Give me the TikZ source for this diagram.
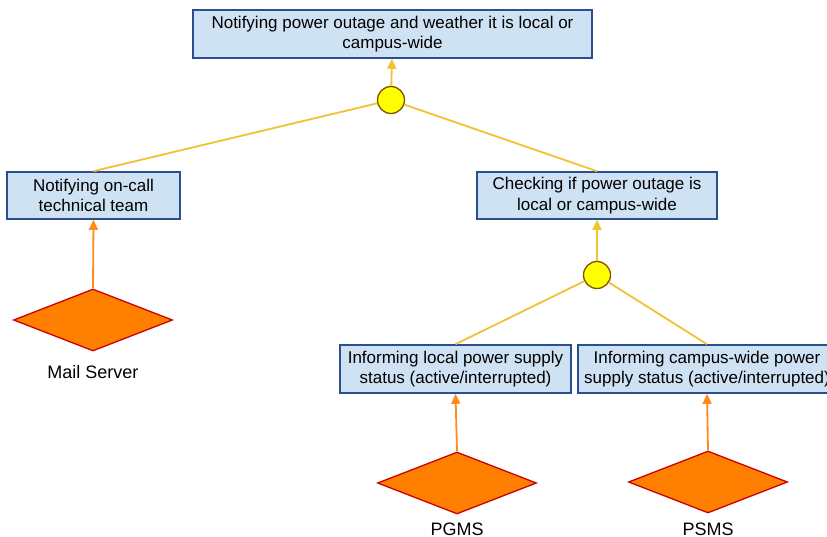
\documentclass[tikz,border=0pt]{standalone}
\usepackage{fontspec}
\setmainfont{Liberation Sans}
\usetikzlibrary{shapes.geometric,arrows.meta}
\definecolor{boxfill}{HTML}{CFE2F3}
\definecolor{boxline}{HTML}{2A4F8F}
\definecolor{gatefill}{HTML}{FFFF00}
\definecolor{gateline}{HTML}{7F5200}
\definecolor{linkline}{HTML}{F1C232}
\definecolor{feedline}{HTML}{FF8C1A}
\definecolor{srcfill}{HTML}{FF7F00}
\definecolor{srcline}{HTML}{CC0000}
\tikzset{
  goal/.style={draw=boxline, line width=1.6pt, fill=boxfill, align=center,
    inner sep=0pt, font=\fontsize{17}{20.5}\selectfont},
  gate/.style={circle, draw=gateline, line width=1.3pt, fill=gatefill,
    minimum size=27pt, inner sep=0pt},
  source/.style={diamond, draw=srcline, line width=1.3pt, fill=srcfill,
    minimum width=159pt, minimum height=62pt, aspect=2.56, inner sep=0pt},
  srclabel/.style={font=\fontsize{18}{20}\selectfont, inner sep=0pt},
  link/.style={draw=linkline, line width=1.8pt},
  uplink/.style={draw=linkline, line width=1.8pt, -{Triangle[width=9pt,length=10pt]}},
  feed/.style={draw=feedline, line width=1.8pt, -{Triangle[width=9pt,length=10pt]}}
}
\begin{document}
\begin{tikzpicture}[x=1pt,y=-1pt]
\useasboundingbox (0,0) rectangle (827,537);
\clip (0,0) rectangle (827,537);
\fill[white] (0,0) rectangle (827,537);

% goal boxes
\node[goal, minimum width=399pt, minimum height=48pt] (top) at (392.5,34)
  {Notifying power outage and weather it is local or\\campus-wide};
\node[goal, minimum width=173pt, minimum height=47pt] (notify) at (93.5,195.5)
  {Notifying on-call\\technical team};
\node[goal, minimum width=240pt, minimum height=47pt] (check) at (597,195.5)
  {Checking if power outage is\\local or campus-wide};
\node[goal, minimum width=231pt, minimum height=48pt] (local) at (455.5,369)
  {Informing local power supply\\status (active/interrupted)};
\node[goal, minimum width=258pt, minimum height=48pt] (campus) at (707,369)
  {Informing campus-wide power\\supply status (active/interrupted)};

% AND gates
\node[gate] (g1) at (391,100) {};
\node[gate] (g2) at (597,275) {};

% sources
\node[source] (mail) at (93,320) {};
\node[source] (pgms) at (457,483) {};
\node[source] (psms) at (708,482) {};
\node[srclabel] (maillbl) at (93,372) {Mail Server};
\node[srclabel] (pgmslbl) at (457,529) {PGMS};
\node[srclabel] (psmslbl) at (708,529) {PSMS};

% refinement links
\draw[link] (g1) -- (notify.north);
\draw[link] (g1) -- (check.north);
\draw[uplink] (g1) -- (top);
\draw[link] (g2) -- (local.north);
\draw[link] (g2) -- (campus.north);
\draw[uplink] (g2) -- (check);

% source feeds
\draw[feed] (mail.north) -- (notify.south);
\draw[feed] (pgms.north) -- (local.south);
\draw[feed] (psms.north) -- (campus.south);
\end{tikzpicture}
\end{document}
